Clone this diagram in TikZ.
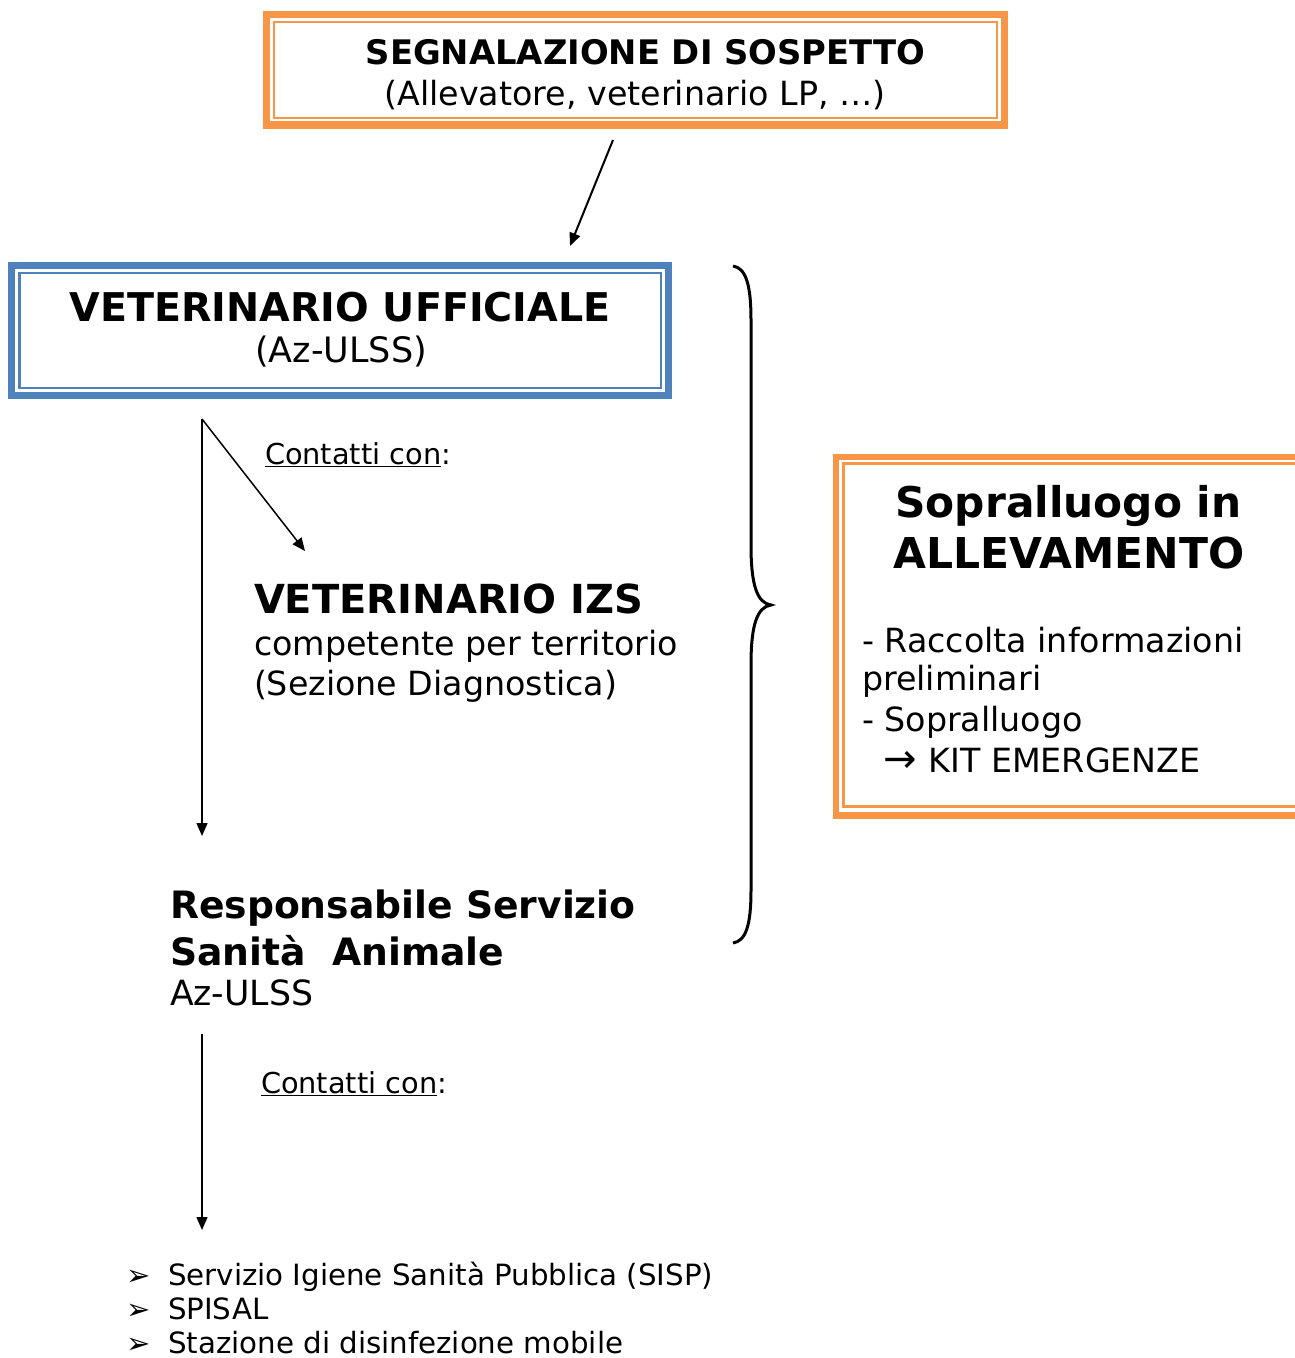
\documentclass[tikz,border=0pt]{standalone}
\usepackage{fontspec}
\setmainfont{DejaVu Sans}
\usetikzlibrary{arrows.meta}
\definecolor{orng}{HTML}{F79646}
\definecolor{blu}{HTML}{4F81BD}
\newcommand{\bul}{\makebox[42pt][l]{\fontsize{29}{29}\selectfont ➢}}
\begin{document}
\begin{tikzpicture}[x=1pt,y=-1pt,
  txt/.style={inner sep=0pt,outer sep=0pt,anchor=base west},
  ctxt/.style={inner sep=0pt,outer sep=0pt,anchor=base},
  arr/.style={line width=1.5pt,-{Triangle[length=13pt,width=11pt]}},
  bracestyle/.style={line width=3pt},
  fA/.style={font=\fontsize{33.3}{40}\selectfont},
  fC/.style={font=\fontsize{28.8}{34}\selectfont},
  fL/.style={font=\fontsize{29.3}{35}\selectfont}]
\useasboundingbox (0,0) rectangle (1294,1358);
% boxes
\draw[orng,line width=7.5pt] (266.3,14.5) rectangle (1004.3,125);
\draw[orng,line width=2pt] (273.9,21.7) rectangle (996.8,118.1);
\draw[blu,line width=7pt] (11.7,265.7) rectangle (668.7,395.8);
\draw[blu,line width=2.2pt] (19.5,272.8) rectangle (661,388);
\draw[orng,line width=6.5pt] (835.8,457) rectangle (1310,815.5);
\draw[orng,line width=2.5pt] (843.3,463.7) rectangle (1310,806.5);
% texts
\node[ctxt,font=\fontsize{33.8}{40}\selectfont\bfseries] (seg) at (645.5,64) {SEGNALAZIONE DI SOSPETTO};
\node[ctxt,fA] (seg2) at (635,105) {(Allevatore, veterinario LP, …)};
\node[ctxt,font=\fontsize{39.6}{46}\selectfont\bfseries] (vu) at (340,321) {VETERINARIO UFFICIALE};
\node[ctxt,font=\fontsize{35}{40}\selectfont] (vu2) at (341,362) {(Az-ULSS)};
\node[txt,fC] (cc1) at (265,464) {\underline{Contatti con}:};
\node[txt,font=\fontsize{40}{46}\selectfont\bfseries] (izs) at (254,613) {VETERINARIO IZS};
\node[txt,fA] (izs2) at (254,655) {competente per territorio};
\node[txt,fA] (izs3) at (254,695) {(Sezione Diagnostica)};
\node[txt,font=\fontsize{37.7}{46}\selectfont\bfseries] (rs) at (170,918) {Responsabile Servizio};
\node[txt,font=\fontsize{37.7}{46}\selectfont\bfseries] (rs2) at (170,965) {Sanità\ \ Animale};
\node[txt,font=\fontsize{34.7}{40}\selectfont] (rs3) at (170,1005) {Az-ULSS};
\node[txt,fC] (cc2) at (261,1093) {\underline{Contatti con}:};
\node[ctxt,font=\fontsize{42.3}{52}\selectfont\bfseries] (sop) at (1068.5,517) {Sopralluogo in};
\node[ctxt,font=\fontsize{42.5}{52}\selectfont\bfseries] (sop2) at (1069,568) {ALLEVAMENTO};
\node[txt,fA] (it1) at (862,652) {- Raccolta informazioni};
\node[txt,fA] (it2) at (862,690) {preliminari};
\node[txt,fA] (it3) at (862,731) {- Sopralluogo};
\node[txt,fA] (it4) at (883,772) {\scalebox{1.2}{→}\hspace{12pt}KIT EMERGENZE};
\node[txt,fL] (b1) at (126,1285) {\bul Servizio Igiene Sanità Pubblica (SISP)};
\node[txt,fL] (b2) at (126,1319) {\bul SPISAL};
\node[txt,fL] (b3) at (126,1353) {\bul Stazione di disinfezione mobile};
% connectors
\coordinate (a1s) at (613,140);
\coordinate (a1e) at (570,246);
\coordinate (vs) at (202,419);
\coordinate (ve) at (202,836);
\coordinate (de) at (305,551);
\coordinate (v2s) at (202,1034);
\coordinate (v2e) at (202,1230);
\draw[arr,line width=2pt] (a1s) -- (a1e);
\draw[arr] (vs) -- (ve);
\draw[arr] (vs) -- (de);
\draw[arr] (v2s) -- (v2e);
% brace
\coordinate (bt) at (733,266);
\coordinate (bm) at (771,605);
\coordinate (bb) at (733,943);
\draw[bracestyle] (bt) .. controls (746,268) and (751,285) .. (751,320)
  -- (751,545) .. controls (751,585) and (757,603) .. (bm)
  .. controls (757,607) and (751,625) .. (751,665)
  -- (751,890) .. controls (751,925) and (746,941) .. (bb);
\end{tikzpicture}
\end{document}
